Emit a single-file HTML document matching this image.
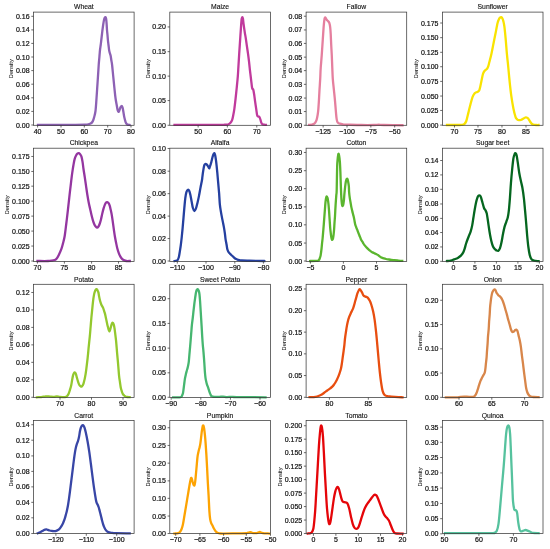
<!DOCTYPE html>
<html><head><meta charset="utf-8"><style>
html,body{margin:0;padding:0;background:#fff;}
body{width:550px;height:549px;overflow:hidden;}
svg{display:block;font-family:"Liberation Sans",sans-serif;}
svg{will-change:transform;}
text{stroke:#111;stroke-width:0.2px;}
</style></head><body>
<svg width="550" height="549" viewBox="0 0 550 549">
<rect width="550" height="549" fill="#fff"/>
<path d="M38.00,124.90 C43.33,124.88 62.17,124.85 70.00,124.80 C77.83,124.75 81.83,124.72 85.00,124.60 C88.17,124.48 88.00,124.32 89.00,124.10 C90.00,123.88 90.45,123.65 91.00,123.30 C91.55,122.95 91.92,122.55 92.30,122.00 C92.68,121.45 92.98,120.83 93.30,120.00 C93.62,119.17 93.83,118.50 94.20,117.00 C94.57,115.50 95.13,113.83 95.50,111.00 C95.87,108.17 96.12,103.83 96.40,100.00 C96.68,96.17 96.93,92.00 97.20,88.00 C97.47,84.00 97.75,79.83 98.00,76.00 C98.25,72.17 98.47,68.17 98.70,65.00 C98.93,61.83 99.18,59.50 99.40,57.00 C99.62,54.50 99.78,52.00 100.00,50.00 C100.22,48.00 100.48,46.67 100.70,45.00 C100.92,43.33 101.08,41.83 101.30,40.00 C101.52,38.17 101.78,35.83 102.00,34.00 C102.22,32.17 102.38,30.67 102.60,29.00 C102.82,27.33 103.07,25.50 103.30,24.00 C103.53,22.50 103.78,21.00 104.00,20.00 C104.22,19.00 104.39,18.47 104.60,18.00 C104.81,17.53 105.03,17.23 105.25,17.20 C105.47,17.17 105.73,17.33 105.90,17.80 C106.08,18.27 106.17,18.80 106.30,20.00 C106.43,21.20 106.58,23.33 106.70,25.00 C106.82,26.67 106.87,28.33 107.00,30.00 C107.13,31.67 107.35,33.33 107.50,35.00 C107.65,36.67 107.73,38.33 107.90,40.00 C108.07,41.67 108.30,43.33 108.50,45.00 C108.70,46.67 108.88,48.67 109.10,50.00 C109.32,51.33 109.55,52.08 109.80,53.00 C110.05,53.92 110.35,54.33 110.60,55.50 C110.85,56.67 111.05,58.42 111.30,60.00 C111.55,61.58 111.78,62.33 112.10,65.00 C112.42,67.67 112.82,72.17 113.20,76.00 C113.58,79.83 114.02,84.33 114.40,88.00 C114.78,91.67 115.12,95.17 115.50,98.00 C115.88,100.83 116.35,103.00 116.70,105.00 C117.05,107.00 117.32,108.87 117.60,110.00 C117.88,111.13 118.13,111.63 118.40,111.80 C118.67,111.97 118.90,111.63 119.20,111.00 C119.50,110.37 119.87,108.78 120.20,108.00 C120.53,107.22 120.90,106.60 121.20,106.30 C121.50,106.00 121.75,105.92 122.00,106.20 C122.25,106.48 122.45,106.95 122.70,108.00 C122.95,109.05 123.25,111.05 123.50,112.50 C123.75,113.95 123.95,115.45 124.20,116.70 C124.45,117.95 124.75,119.05 125.00,120.00 C125.25,120.95 125.45,121.77 125.70,122.40 C125.95,123.03 126.20,123.43 126.50,123.80 C126.80,124.17 127.00,124.42 127.50,124.60 C128.00,124.78 129.17,124.85 129.50,124.90" fill="none" stroke="#8d61b4" stroke-width="2.30" stroke-linejoin="round" stroke-linecap="square"/>
<rect x="33.50" y="12.10" width="100.60" height="113.20" fill="none" stroke="#3a3a3a" stroke-width="0.75"/>
<g stroke="#3a3a3a" stroke-width="0.75"><line x1="31.30" y1="125.00" x2="33.50" y2="125.00"/><line x1="31.30" y1="111.40" x2="33.50" y2="111.40"/><line x1="31.30" y1="97.80" x2="33.50" y2="97.80"/><line x1="31.30" y1="84.20" x2="33.50" y2="84.20"/><line x1="31.30" y1="70.60" x2="33.50" y2="70.60"/><line x1="31.30" y1="57.00" x2="33.50" y2="57.00"/><line x1="31.30" y1="43.40" x2="33.50" y2="43.40"/><line x1="31.30" y1="29.90" x2="33.50" y2="29.90"/><line x1="31.30" y1="16.30" x2="33.50" y2="16.30"/><line x1="37.60" y1="125.30" x2="37.60" y2="127.50"/><line x1="61.00" y1="125.30" x2="61.00" y2="127.50"/><line x1="84.30" y1="125.30" x2="84.30" y2="127.50"/><line x1="107.70" y1="125.30" x2="107.70" y2="127.50"/><line x1="131.00" y1="125.30" x2="131.00" y2="127.50"/></g>
<g font-size="7.00" fill="#111"><text x="29.60" y="127.50" text-anchor="end">0.00</text><text x="29.60" y="113.90" text-anchor="end">0.02</text><text x="29.60" y="100.30" text-anchor="end">0.04</text><text x="29.60" y="86.70" text-anchor="end">0.06</text><text x="29.60" y="73.10" text-anchor="end">0.08</text><text x="29.60" y="59.50" text-anchor="end">0.10</text><text x="29.60" y="45.90" text-anchor="end">0.12</text><text x="29.60" y="32.40" text-anchor="end">0.14</text><text x="29.60" y="18.80" text-anchor="end">0.16</text><text x="37.60" y="133.90" text-anchor="middle">40</text><text x="61.00" y="133.90" text-anchor="middle">50</text><text x="84.30" y="133.90" text-anchor="middle">60</text><text x="107.70" y="133.90" text-anchor="middle">70</text><text x="131.00" y="133.90" text-anchor="middle">80</text></g>
<text x="83.80" y="9.35" text-anchor="middle" font-size="6.80" fill="#111" style="stroke-width:0.12px">Wheat</text>
<text transform="translate(13.30,68.70) rotate(-90)" text-anchor="middle" font-size="5.70" fill="#222" style="stroke-width:0.05px">Density</text>
<path d="M174.50,124.85 C181.25,124.85 206.65,124.87 215.00,124.85 C223.35,124.83 222.43,124.81 224.60,124.75 C226.77,124.69 227.05,124.79 228.00,124.50 C228.95,124.21 229.62,123.73 230.30,123.00 C230.98,122.27 231.62,121.35 232.10,120.10 C232.58,118.85 232.82,117.42 233.20,115.50 C233.58,113.58 234.02,111.28 234.40,108.60 C234.78,105.92 235.12,102.83 235.50,99.40 C235.88,95.97 236.32,91.82 236.70,88.00 C237.08,84.18 237.52,80.00 237.80,76.50 C238.08,73.00 238.17,70.80 238.40,67.00 C238.63,63.20 238.88,58.65 239.20,53.70 C239.52,48.75 239.97,42.22 240.30,37.30 C240.63,32.38 240.97,27.32 241.20,24.20 C241.43,21.08 241.52,19.77 241.70,18.60 C241.88,17.43 242.10,17.22 242.30,17.20 C242.50,17.18 242.68,17.33 242.90,18.50 C243.12,19.67 243.30,21.97 243.60,24.20 C243.90,26.43 244.33,29.53 244.70,31.90 C245.07,34.27 245.43,36.03 245.80,38.40 C246.17,40.77 246.53,43.55 246.90,46.10 C247.27,48.65 247.65,51.15 248.00,53.70 C248.35,56.25 248.68,58.70 249.00,61.40 C249.32,64.10 249.55,66.83 249.90,69.90 C250.25,72.97 250.75,76.90 251.10,79.80 C251.45,82.70 251.75,85.75 252.00,87.30 C252.25,88.85 252.38,88.70 252.60,89.10 C252.82,89.50 253.03,88.77 253.30,89.70 C253.57,90.63 253.88,92.63 254.20,94.70 C254.52,96.77 254.85,99.62 255.20,102.10 C255.55,104.58 255.98,107.43 256.30,109.60 C256.62,111.77 256.83,113.97 257.10,115.10 C257.37,116.23 257.62,116.15 257.90,116.40 C258.18,116.65 258.55,116.50 258.80,116.60 C259.05,116.70 259.13,116.52 259.40,117.00 C259.67,117.48 260.08,118.57 260.40,119.50 C260.72,120.43 260.98,121.82 261.30,122.60 C261.62,123.38 261.83,123.85 262.30,124.20 C262.77,124.55 263.52,124.60 264.10,124.70 C264.68,124.80 265.52,124.78 265.80,124.80" fill="none" stroke="#c03a9c" stroke-width="2.30" stroke-linejoin="round" stroke-linecap="square"/>
<rect x="169.80" y="12.10" width="100.60" height="113.20" fill="none" stroke="#3a3a3a" stroke-width="0.75"/>
<g stroke="#3a3a3a" stroke-width="0.75"><line x1="167.60" y1="125.27" x2="169.80" y2="125.27"/><line x1="167.60" y1="100.57" x2="169.80" y2="100.57"/><line x1="167.60" y1="76.11" x2="169.80" y2="76.11"/><line x1="167.60" y1="51.66" x2="169.80" y2="51.66"/><line x1="167.60" y1="26.95" x2="169.80" y2="26.95"/><line x1="198.14" y1="125.30" x2="198.14" y2="127.50"/><line x1="227.34" y1="125.30" x2="227.34" y2="127.50"/><line x1="256.78" y1="125.30" x2="256.78" y2="127.50"/></g>
<g font-size="7.00" fill="#111"><text x="165.90" y="127.77" text-anchor="end">0.00</text><text x="165.90" y="103.07" text-anchor="end">0.05</text><text x="165.90" y="78.61" text-anchor="end">0.10</text><text x="165.90" y="54.16" text-anchor="end">0.15</text><text x="165.90" y="29.45" text-anchor="end">0.20</text><text x="198.14" y="133.90" text-anchor="middle">50</text><text x="227.34" y="133.90" text-anchor="middle">60</text><text x="256.78" y="133.90" text-anchor="middle">70</text></g>
<text x="220.10" y="9.35" text-anchor="middle" font-size="6.80" fill="#111" style="stroke-width:0.12px">Maize</text>
<text transform="translate(149.60,68.70) rotate(-90)" text-anchor="middle" font-size="5.70" fill="#222" style="stroke-width:0.05px">Density</text>
<path d="M309.20,124.85 C309.68,124.81 311.25,124.79 312.10,124.60 C312.95,124.41 313.67,124.20 314.30,123.70 C314.93,123.20 315.45,122.50 315.90,121.60 C316.35,120.70 316.63,119.95 317.00,118.30 C317.37,116.65 317.78,114.62 318.10,111.70 C318.42,108.78 318.67,104.43 318.90,100.80 C319.13,97.17 319.28,93.55 319.50,89.90 C319.72,86.25 320.00,82.55 320.20,78.90 C320.40,75.25 320.45,71.87 320.70,68.00 C320.95,64.13 321.35,60.48 321.70,55.70 C322.05,50.92 322.45,44.40 322.80,39.30 C323.15,34.20 323.50,28.58 323.80,25.10 C324.10,21.62 324.35,19.70 324.60,18.40 C324.85,17.10 325.07,17.27 325.30,17.30 C325.53,17.33 325.70,18.12 326.00,18.60 C326.30,19.08 326.73,19.75 327.10,20.20 C327.47,20.65 327.83,20.85 328.20,21.30 C328.57,21.75 328.97,21.90 329.30,22.90 C329.63,23.90 329.97,25.47 330.20,27.30 C330.43,29.13 330.53,30.98 330.70,33.90 C330.87,36.82 331.02,41.17 331.20,44.80 C331.38,48.43 331.62,51.83 331.80,55.70 C331.98,59.57 332.13,64.13 332.30,68.00 C332.47,71.87 332.53,75.25 332.80,78.90 C333.07,82.55 333.53,86.25 333.90,89.90 C334.27,93.55 334.67,97.17 335.00,100.80 C335.33,104.43 335.62,108.60 335.90,111.70 C336.18,114.80 336.38,117.58 336.70,119.40 C337.02,121.22 337.25,121.88 337.80,122.60 C338.35,123.32 339.18,123.42 340.00,123.70 C340.82,123.98 341.87,124.15 342.70,124.30 C343.53,124.45 344.12,124.53 345.00,124.60 C345.88,124.67 345.28,124.63 348.00,124.70 C350.72,124.77 357.04,124.97 361.34,125.02 C365.64,125.08 370.91,125.06 373.82,125.02 C376.73,124.98 377.15,124.77 378.81,124.77 C380.47,124.77 379.85,124.94 383.80,125.02 C387.75,125.11 399.40,125.23 402.52,125.27" fill="none" stroke="#e57f9e" stroke-width="2.30" stroke-linejoin="round" stroke-linecap="square"/>
<rect x="306.10" y="12.10" width="100.60" height="113.20" fill="none" stroke="#3a3a3a" stroke-width="0.75"/>
<g stroke="#3a3a3a" stroke-width="0.75"><line x1="303.90" y1="125.27" x2="306.10" y2="125.27"/><line x1="303.90" y1="111.55" x2="306.10" y2="111.55"/><line x1="303.90" y1="98.07" x2="306.10" y2="98.07"/><line x1="303.90" y1="84.35" x2="306.10" y2="84.35"/><line x1="303.90" y1="70.62" x2="306.10" y2="70.62"/><line x1="303.90" y1="57.15" x2="306.10" y2="57.15"/><line x1="303.90" y1="43.42" x2="306.10" y2="43.42"/><line x1="303.90" y1="29.95" x2="306.10" y2="29.95"/><line x1="303.90" y1="16.22" x2="306.10" y2="16.22"/><line x1="323.15" y1="125.30" x2="323.15" y2="127.50"/><line x1="347.00" y1="125.30" x2="347.00" y2="127.50"/><line x1="370.85" y1="125.30" x2="370.85" y2="127.50"/><line x1="394.70" y1="125.30" x2="394.70" y2="127.50"/></g>
<g font-size="7.00" fill="#111"><text x="302.20" y="127.77" text-anchor="end">0.00</text><text x="302.20" y="114.05" text-anchor="end">0.01</text><text x="302.20" y="100.57" text-anchor="end">0.02</text><text x="302.20" y="86.85" text-anchor="end">0.03</text><text x="302.20" y="73.12" text-anchor="end">0.04</text><text x="302.20" y="59.65" text-anchor="end">0.05</text><text x="302.20" y="45.92" text-anchor="end">0.06</text><text x="302.20" y="32.45" text-anchor="end">0.07</text><text x="302.20" y="18.72" text-anchor="end">0.08</text><text x="323.15" y="133.90" text-anchor="middle">−125</text><text x="347.00" y="133.90" text-anchor="middle">−100</text><text x="370.85" y="133.90" text-anchor="middle">−75</text><text x="394.70" y="133.90" text-anchor="middle">−50</text></g>
<text x="356.40" y="9.35" text-anchor="middle" font-size="6.80" fill="#111" style="stroke-width:0.12px">Fallow</text>
<text transform="translate(285.90,68.70) rotate(-90)" text-anchor="middle" font-size="5.70" fill="#222" style="stroke-width:0.05px">Density</text>
<path d="M447.00,125.00 C448.83,125.00 455.58,125.02 458.00,125.00 C460.42,124.98 460.47,125.03 461.50,124.90 C462.53,124.77 463.40,124.85 464.20,124.20 C465.00,123.55 465.60,122.93 466.30,121.00 C467.00,119.07 467.70,115.40 468.40,112.60 C469.10,109.80 469.80,106.82 470.50,104.20 C471.20,101.58 471.90,98.72 472.60,96.90 C473.30,95.08 474.08,94.07 474.70,93.30 C475.32,92.53 475.78,92.57 476.30,92.30 C476.82,92.03 477.30,92.05 477.80,91.70 C478.30,91.35 478.88,91.08 479.30,90.20 C479.72,89.32 479.95,87.90 480.30,86.40 C480.65,84.90 480.95,83.30 481.40,81.20 C481.85,79.10 482.45,75.55 483.00,73.80 C483.55,72.05 484.20,71.38 484.70,70.70 C485.20,70.02 485.58,70.05 486.00,69.70 C486.42,69.35 486.82,69.20 487.20,68.60 C487.58,68.00 487.95,67.15 488.30,66.10 C488.65,65.05 488.78,64.33 489.30,62.30 C489.82,60.27 490.70,57.05 491.40,53.90 C492.10,50.75 492.80,46.88 493.50,43.40 C494.20,39.92 495.08,35.62 495.60,33.00 C496.12,30.38 496.25,29.45 496.60,27.70 C496.95,25.95 497.35,23.82 497.70,22.50 C498.05,21.18 498.35,20.57 498.70,19.80 C499.05,19.03 499.37,18.33 499.80,17.90 C500.23,17.47 500.88,17.13 501.30,17.20 C501.72,17.27 501.95,17.60 502.30,18.30 C502.65,19.00 503.05,20.00 503.40,21.40 C503.75,22.80 504.02,23.72 504.40,26.70 C504.78,29.68 505.28,34.77 505.70,39.30 C506.12,43.83 506.48,49.37 506.90,53.90 C507.32,58.43 507.75,61.95 508.20,66.50 C508.65,71.05 509.08,76.30 509.60,81.20 C510.12,86.10 510.67,91.37 511.30,95.90 C511.93,100.43 512.70,104.92 513.40,108.40 C514.10,111.88 514.93,115.05 515.50,116.80 C516.07,118.55 516.35,118.37 516.80,118.90 C517.25,119.43 517.55,119.82 518.20,120.00 C518.85,120.18 519.75,120.28 520.70,120.00 C521.65,119.72 523.13,118.72 523.90,118.30 C524.67,117.88 524.85,117.63 525.30,117.50 C525.75,117.37 526.22,117.40 526.60,117.50 C526.98,117.60 527.25,117.80 527.60,118.10 C527.95,118.40 528.17,118.53 528.70,119.30 C529.23,120.07 530.25,121.92 530.80,122.70 C531.35,123.48 531.58,123.68 532.00,124.00 C532.42,124.32 532.57,124.43 533.30,124.60 C534.03,124.77 535.53,124.93 536.40,125.00 C537.27,125.07 538.15,125.00 538.50,125.00" fill="none" stroke="#f9e300" stroke-width="2.30" stroke-linejoin="round" stroke-linecap="square"/>
<rect x="442.40" y="12.10" width="100.60" height="113.20" fill="none" stroke="#3a3a3a" stroke-width="0.75"/>
<g stroke="#3a3a3a" stroke-width="0.75"><line x1="440.20" y1="125.10" x2="442.40" y2="125.10"/><line x1="440.20" y1="110.44" x2="442.40" y2="110.44"/><line x1="440.20" y1="96.04" x2="442.40" y2="96.04"/><line x1="440.20" y1="81.38" x2="442.40" y2="81.38"/><line x1="440.20" y1="66.72" x2="442.40" y2="66.72"/><line x1="440.20" y1="52.31" x2="442.40" y2="52.31"/><line x1="440.20" y1="37.66" x2="442.40" y2="37.66"/><line x1="440.20" y1="23.00" x2="442.40" y2="23.00"/><line x1="454.47" y1="125.30" x2="454.47" y2="127.50"/><line x1="477.97" y1="125.30" x2="477.97" y2="127.50"/><line x1="501.98" y1="125.30" x2="501.98" y2="127.50"/><line x1="525.99" y1="125.30" x2="525.99" y2="127.50"/></g>
<g font-size="7.00" fill="#111"><text x="438.50" y="127.60" text-anchor="end">0.000</text><text x="438.50" y="112.94" text-anchor="end">0.025</text><text x="438.50" y="98.54" text-anchor="end">0.050</text><text x="438.50" y="83.88" text-anchor="end">0.075</text><text x="438.50" y="69.22" text-anchor="end">0.100</text><text x="438.50" y="54.81" text-anchor="end">0.125</text><text x="438.50" y="40.16" text-anchor="end">0.150</text><text x="438.50" y="25.50" text-anchor="end">0.175</text><text x="454.47" y="133.90" text-anchor="middle">70</text><text x="477.97" y="133.90" text-anchor="middle">75</text><text x="501.98" y="133.90" text-anchor="middle">80</text><text x="525.99" y="133.90" text-anchor="middle">85</text></g>
<text x="492.70" y="9.35" text-anchor="middle" font-size="6.80" fill="#111" style="stroke-width:0.12px">Sunflower</text>
<text transform="translate(418.20,68.70) rotate(-90)" text-anchor="middle" font-size="5.70" fill="#222" style="stroke-width:0.05px">Density</text>
<path d="M37.50,261.00 C39.25,261.00 45.58,261.07 48.00,261.00 C50.42,260.93 50.92,260.77 52.00,260.60 C53.08,260.43 53.78,260.25 54.50,260.00 C55.22,259.75 55.58,259.95 56.30,259.10 C57.02,258.25 57.93,256.65 58.80,254.90 C59.67,253.15 60.80,250.52 61.50,248.60 C62.20,246.68 62.47,245.50 63.00,243.40 C63.53,241.30 64.15,239.32 64.70,236.00 C65.25,232.68 65.78,227.68 66.30,223.50 C66.82,219.32 67.30,215.27 67.80,210.90 C68.30,206.53 68.78,201.85 69.30,197.30 C69.82,192.75 70.42,187.62 70.90,183.60 C71.38,179.58 71.77,176.33 72.20,173.20 C72.63,170.07 73.08,167.18 73.50,164.80 C73.92,162.42 74.25,160.48 74.70,158.90 C75.15,157.32 75.75,156.17 76.20,155.30 C76.65,154.43 76.98,154.05 77.40,153.70 C77.82,153.35 78.28,153.17 78.70,153.20 C79.12,153.23 79.45,153.37 79.90,153.90 C80.35,154.43 80.97,155.12 81.40,156.40 C81.83,157.68 82.15,159.50 82.50,161.60 C82.85,163.70 83.12,166.37 83.50,169.00 C83.88,171.63 84.38,174.62 84.80,177.40 C85.22,180.18 85.58,182.85 86.00,185.70 C86.42,188.55 86.85,191.70 87.30,194.50 C87.75,197.30 88.22,200.05 88.70,202.50 C89.18,204.95 89.73,207.10 90.20,209.20 C90.67,211.30 91.05,213.25 91.50,215.10 C91.95,216.95 92.42,218.73 92.90,220.30 C93.38,221.87 93.93,223.45 94.40,224.50 C94.87,225.55 95.25,226.07 95.70,226.60 C96.15,227.13 96.65,227.70 97.10,227.70 C97.55,227.70 97.95,227.30 98.40,226.60 C98.85,225.90 99.35,224.78 99.80,223.50 C100.25,222.22 100.67,220.65 101.10,218.90 C101.53,217.15 101.98,214.75 102.40,213.00 C102.82,211.25 103.18,209.80 103.60,208.40 C104.02,207.00 104.48,205.58 104.90,204.60 C105.32,203.62 105.72,202.92 106.10,202.50 C106.48,202.08 106.82,202.03 107.20,202.10 C107.58,202.17 107.98,202.30 108.40,202.90 C108.82,203.50 109.32,204.55 109.70,205.70 C110.08,206.85 110.35,208.23 110.70,209.80 C111.05,211.37 111.45,213.10 111.80,215.10 C112.15,217.10 112.45,219.35 112.80,221.80 C113.15,224.25 113.55,227.35 113.90,229.80 C114.25,232.25 114.55,234.42 114.90,236.50 C115.25,238.58 115.62,240.38 116.00,242.30 C116.38,244.22 116.75,246.25 117.20,248.00 C117.65,249.75 118.17,251.37 118.70,252.80 C119.23,254.23 119.80,255.55 120.40,256.60 C121.00,257.65 121.65,258.47 122.30,259.10 C122.95,259.73 123.62,260.08 124.30,260.40 C124.98,260.72 125.48,260.90 126.40,261.00 C127.32,261.10 129.23,261.00 129.80,261.00" fill="none" stroke="#9436a0" stroke-width="2.30" stroke-linejoin="round" stroke-linecap="square"/>
<rect x="33.50" y="148.20" width="100.60" height="113.20" fill="none" stroke="#3a3a3a" stroke-width="0.75"/>
<g stroke="#3a3a3a" stroke-width="0.75"><line x1="31.30" y1="261.02" x2="33.50" y2="261.02"/><line x1="31.30" y1="246.05" x2="33.50" y2="246.05"/><line x1="31.30" y1="231.08" x2="33.50" y2="231.08"/><line x1="31.30" y1="216.11" x2="33.50" y2="216.11"/><line x1="31.30" y1="201.13" x2="33.50" y2="201.13"/><line x1="31.30" y1="186.16" x2="33.50" y2="186.16"/><line x1="31.30" y1="171.44" x2="33.50" y2="171.44"/><line x1="31.30" y1="156.46" x2="33.50" y2="156.46"/><line x1="37.43" y1="261.40" x2="37.43" y2="263.60"/><line x1="64.38" y1="261.40" x2="64.38" y2="263.60"/><line x1="91.58" y1="261.40" x2="91.58" y2="263.60"/><line x1="118.53" y1="261.40" x2="118.53" y2="263.60"/></g>
<g font-size="7.00" fill="#111"><text x="29.60" y="263.52" text-anchor="end">0.000</text><text x="29.60" y="248.55" text-anchor="end">0.025</text><text x="29.60" y="233.58" text-anchor="end">0.050</text><text x="29.60" y="218.61" text-anchor="end">0.075</text><text x="29.60" y="203.63" text-anchor="end">0.100</text><text x="29.60" y="188.66" text-anchor="end">0.125</text><text x="29.60" y="173.94" text-anchor="end">0.150</text><text x="29.60" y="158.96" text-anchor="end">0.175</text><text x="37.43" y="270.00" text-anchor="middle">70</text><text x="64.38" y="270.00" text-anchor="middle">75</text><text x="91.58" y="270.00" text-anchor="middle">80</text><text x="118.53" y="270.00" text-anchor="middle">85</text></g>
<text x="83.80" y="145.45" text-anchor="middle" font-size="6.80" fill="#111" style="stroke-width:0.12px">Chickpea</text>
<text transform="translate(9.30,204.80) rotate(-90)" text-anchor="middle" font-size="5.70" fill="#222" style="stroke-width:0.05px">Density</text>
<path d="M174.60,261.00 C175.05,260.88 176.60,260.93 177.30,260.30 C178.00,259.67 178.37,258.73 178.80,257.20 C179.23,255.67 179.57,253.12 179.90,251.10 C180.23,249.08 180.50,247.37 180.80,245.10 C181.10,242.83 181.40,240.28 181.70,237.50 C182.00,234.72 182.30,231.68 182.60,228.40 C182.90,225.12 183.20,221.33 183.50,217.80 C183.80,214.27 184.10,210.47 184.40,207.20 C184.70,203.93 184.97,200.72 185.30,198.20 C185.63,195.68 185.97,193.50 186.40,192.10 C186.83,190.70 187.40,189.93 187.90,189.80 C188.40,189.67 188.95,190.28 189.40,191.30 C189.85,192.32 190.22,194.13 190.60,195.90 C190.98,197.67 191.32,199.88 191.70,201.90 C192.08,203.92 192.45,206.48 192.90,208.00 C193.35,209.52 193.90,210.88 194.40,211.00 C194.90,211.12 195.38,210.08 195.90,208.70 C196.42,207.32 196.98,204.83 197.50,202.70 C198.02,200.57 198.50,198.42 199.00,195.90 C199.50,193.38 200.00,190.25 200.50,187.60 C201.00,184.95 201.69,181.78 202.00,180.00 C202.31,178.22 202.19,178.35 202.38,176.93 C202.57,175.50 202.88,173.10 203.13,171.44 C203.38,169.77 203.63,168.07 203.88,166.95 C204.13,165.82 204.34,165.20 204.63,164.70 C204.92,164.20 205.29,163.99 205.62,163.95 C205.96,163.91 206.29,164.16 206.62,164.45 C206.96,164.74 207.29,165.20 207.62,165.70 C207.95,166.20 208.33,167.03 208.62,167.44 C208.91,167.86 209.08,168.57 209.37,168.19 C209.66,167.82 210.03,166.24 210.37,165.20 C210.70,164.16 211.03,163.20 211.36,161.95 C211.70,160.71 212.03,158.96 212.36,157.71 C212.70,156.46 213.03,155.22 213.36,154.47 C213.69,153.72 214.07,153.14 214.36,153.22 C214.65,153.30 214.86,153.93 215.11,154.97 C215.36,156.01 215.61,157.67 215.86,159.46 C216.11,161.25 216.36,163.41 216.60,165.70 C216.85,167.99 217.10,170.48 217.35,173.18 C217.60,175.89 217.81,178.59 218.10,181.92 C218.39,185.25 218.81,189.40 219.10,193.15 C219.39,196.89 219.56,201.34 219.85,204.38 C220.14,207.41 220.51,209.28 220.85,211.36 C221.18,213.44 221.51,215.11 221.85,216.85 C222.18,218.60 222.51,220.18 222.84,221.85 C223.18,223.51 223.51,224.96 223.84,226.84 C224.17,228.71 224.55,231.00 224.84,233.07 C225.13,235.15 225.30,237.36 225.59,239.31 C225.88,241.27 226.30,243.14 226.59,244.80 C226.88,246.47 227.04,248.13 227.34,249.30 C227.63,250.46 228.00,251.17 228.33,251.79 C228.67,252.41 228.96,252.62 229.33,253.04 C229.71,253.45 230.16,253.87 230.58,254.29 C231.00,254.70 231.29,255.03 231.83,255.53 C232.37,256.03 233.20,256.74 233.82,257.28 C234.45,257.82 234.86,258.36 235.57,258.78 C236.28,259.19 237.03,259.48 238.07,259.78 C239.11,260.07 239.94,260.36 241.81,260.52 C243.68,260.69 245.55,260.69 249.30,260.77 C253.04,260.86 261.77,260.98 264.27,261.02" fill="none" stroke="#2540a0" stroke-width="2.30" stroke-linejoin="round" stroke-linecap="square"/>
<rect x="169.80" y="148.20" width="100.60" height="113.20" fill="none" stroke="#3a3a3a" stroke-width="0.75"/>
<g stroke="#3a3a3a" stroke-width="0.75"><line x1="167.60" y1="261.02" x2="169.80" y2="261.02"/><line x1="167.60" y1="238.56" x2="169.80" y2="238.56"/><line x1="167.60" y1="216.11" x2="169.80" y2="216.11"/><line x1="167.60" y1="193.65" x2="169.80" y2="193.65"/><line x1="167.60" y1="171.19" x2="169.80" y2="171.19"/><line x1="167.60" y1="148.48" x2="169.80" y2="148.48"/><line x1="177.30" y1="261.40" x2="177.30" y2="263.60"/><line x1="206.00" y1="261.40" x2="206.00" y2="263.60"/><line x1="234.80" y1="261.40" x2="234.80" y2="263.60"/><line x1="263.40" y1="261.40" x2="263.40" y2="263.60"/></g>
<g font-size="7.00" fill="#111"><text x="165.90" y="263.52" text-anchor="end">0.00</text><text x="165.90" y="241.06" text-anchor="end">0.02</text><text x="165.90" y="218.61" text-anchor="end">0.04</text><text x="165.90" y="196.15" text-anchor="end">0.06</text><text x="165.90" y="173.69" text-anchor="end">0.08</text><text x="165.90" y="150.98" text-anchor="end">0.10</text><text x="177.30" y="270.00" text-anchor="middle">−110</text><text x="206.00" y="270.00" text-anchor="middle">−100</text><text x="234.80" y="270.00" text-anchor="middle">−90</text><text x="263.40" y="270.00" text-anchor="middle">−80</text></g>
<text x="220.10" y="145.45" text-anchor="middle" font-size="6.80" fill="#111" style="stroke-width:0.12px">Alfalfa</text>
<text transform="translate(149.60,204.80) rotate(-90)" text-anchor="middle" font-size="5.70" fill="#222" style="stroke-width:0.05px">Density</text>
<path d="M310.18,261.02 C311.15,261.00 314.70,260.95 316.00,260.90 C317.30,260.85 317.45,260.93 318.00,260.70 C318.55,260.47 318.98,259.97 319.30,259.50 C319.62,259.03 319.68,258.55 319.90,257.90 C320.12,257.25 320.33,257.08 320.60,255.60 C320.87,254.12 321.27,250.97 321.50,249.00 C321.73,247.03 321.82,245.55 322.00,243.80 C322.18,242.05 322.42,240.37 322.60,238.50 C322.78,236.63 322.93,234.57 323.10,232.60 C323.27,230.63 323.43,228.77 323.60,226.70 C323.77,224.63 323.95,222.17 324.10,220.20 C324.25,218.23 324.37,216.65 324.50,214.90 C324.63,213.15 324.75,211.67 324.90,209.70 C325.05,207.73 325.22,204.97 325.40,203.10 C325.58,201.23 325.82,199.58 326.00,198.50 C326.18,197.42 326.33,196.88 326.50,196.60 C326.67,196.32 326.83,196.58 327.00,196.80 C327.17,197.02 327.32,197.18 327.50,197.90 C327.68,198.62 327.93,200.02 328.10,201.10 C328.27,202.18 328.35,202.87 328.50,204.40 C328.65,205.93 328.85,208.33 329.00,210.30 C329.15,212.27 329.27,214.23 329.40,216.20 C329.53,218.17 329.67,220.13 329.80,222.10 C329.93,224.07 330.05,226.25 330.20,228.00 C330.35,229.75 330.55,231.28 330.70,232.60 C330.85,233.92 330.97,234.95 331.10,235.90 C331.23,236.85 331.35,237.65 331.50,238.30 C331.65,238.95 331.83,239.58 332.00,239.80 C332.17,240.02 332.33,239.82 332.50,239.60 C332.67,239.38 332.82,239.33 333.00,238.50 C333.18,237.67 333.42,236.13 333.60,234.60 C333.78,233.07 333.95,231.27 334.10,229.30 C334.25,227.33 334.35,224.98 334.50,222.80 C334.65,220.62 334.85,218.60 335.00,216.20 C335.15,213.80 335.25,211.02 335.40,208.40 C335.55,205.78 335.75,202.70 335.90,200.50 C336.05,198.30 336.17,196.95 336.30,195.20 C336.43,193.45 336.56,194.71 336.70,190.00 C336.84,185.29 336.98,172.04 337.13,166.95 C337.29,161.86 337.43,161.62 337.63,159.46 C337.84,157.30 338.13,154.59 338.38,153.97 C338.63,153.35 338.88,154.38 339.13,155.72 C339.38,157.05 339.67,159.25 339.88,161.95 C340.09,164.66 340.21,167.78 340.38,171.94 C340.55,176.10 340.71,182.54 340.88,186.91 C341.04,191.28 341.21,195.31 341.38,198.14 C341.54,200.97 341.71,202.59 341.88,203.88 C342.04,205.17 342.17,205.67 342.38,205.87 C342.58,206.08 342.87,206.00 343.12,205.13 C343.37,204.25 343.66,202.42 343.87,200.63 C344.08,198.85 344.16,196.68 344.37,194.40 C344.58,192.11 344.87,189.07 345.12,186.91 C345.37,184.75 345.62,182.71 345.87,181.42 C346.12,180.13 346.37,179.59 346.62,179.17 C346.87,178.76 347.12,178.55 347.37,178.92 C347.62,179.30 347.87,180.17 348.11,181.42 C348.36,182.67 348.70,184.63 348.86,186.41 C349.03,188.19 348.94,190.13 349.10,192.10 C349.26,194.07 349.55,196.43 349.80,198.20 C350.05,199.97 350.35,201.25 350.60,202.70 C350.85,204.15 351.05,205.63 351.30,206.90 C351.55,208.17 351.85,209.23 352.10,210.30 C352.35,211.37 352.55,212.30 352.80,213.30 C353.05,214.30 353.33,215.17 353.60,216.30 C353.87,217.43 354.15,218.83 354.40,220.10 C354.65,221.37 354.85,222.85 355.10,223.90 C355.35,224.95 355.65,225.65 355.90,226.40 C356.15,227.15 356.35,227.77 356.60,228.40 C356.85,229.03 357.15,229.57 357.40,230.20 C357.65,230.83 357.85,231.53 358.10,232.20 C358.35,232.87 358.65,233.57 358.90,234.20 C359.15,234.83 359.35,235.38 359.60,236.00 C359.85,236.62 360.15,237.27 360.40,237.90 C360.65,238.53 360.77,239.17 361.10,239.80 C361.43,240.43 362.02,241.08 362.40,241.70 C362.78,242.32 363.05,242.93 363.40,243.50 C363.75,244.07 364.12,244.58 364.50,245.10 C364.88,245.62 365.25,246.10 365.70,246.60 C366.15,247.10 366.70,247.60 367.20,248.10 C367.70,248.60 368.20,249.15 368.70,249.60 C369.20,250.05 369.70,250.42 370.20,250.80 C370.70,251.18 371.20,251.60 371.70,251.90 C372.20,252.20 372.70,252.35 373.20,252.60 C373.70,252.85 374.18,253.15 374.70,253.40 C375.22,253.65 375.78,253.85 376.30,254.10 C376.82,254.35 377.30,254.57 377.80,254.90 C378.30,255.23 378.80,255.72 379.30,256.10 C379.80,256.48 380.30,256.90 380.80,257.20 C381.30,257.50 381.80,257.70 382.30,257.90 C382.80,258.10 383.17,258.22 383.80,258.40 C384.43,258.58 385.35,258.83 386.10,259.00 C386.85,259.17 387.42,259.25 388.30,259.40 C389.18,259.55 390.38,259.77 391.40,259.90 C392.42,260.03 393.40,260.10 394.40,260.20 C395.40,260.30 396.40,260.40 397.40,260.50 C398.40,260.60 399.60,260.73 400.40,260.80 C401.20,260.87 401.90,260.88 402.20,260.90" fill="none" stroke="#5ab52e" stroke-width="2.30" stroke-linejoin="round" stroke-linecap="square"/>
<rect x="306.10" y="148.20" width="100.60" height="113.20" fill="none" stroke="#3a3a3a" stroke-width="0.75"/>
<g stroke="#3a3a3a" stroke-width="0.75"><line x1="303.90" y1="261.02" x2="306.10" y2="261.02"/><line x1="303.90" y1="243.06" x2="306.10" y2="243.06"/><line x1="303.90" y1="224.84" x2="306.10" y2="224.84"/><line x1="303.90" y1="206.87" x2="306.10" y2="206.87"/><line x1="303.90" y1="188.66" x2="306.10" y2="188.66"/><line x1="303.90" y1="170.69" x2="306.10" y2="170.69"/><line x1="303.90" y1="152.47" x2="306.10" y2="152.47"/><line x1="310.40" y1="261.40" x2="310.40" y2="263.60"/><line x1="343.40" y1="261.40" x2="343.40" y2="263.60"/><line x1="376.50" y1="261.40" x2="376.50" y2="263.60"/></g>
<g font-size="7.00" fill="#111"><text x="302.20" y="263.52" text-anchor="end">0.00</text><text x="302.20" y="245.56" text-anchor="end">0.05</text><text x="302.20" y="227.34" text-anchor="end">0.10</text><text x="302.20" y="209.37" text-anchor="end">0.15</text><text x="302.20" y="191.16" text-anchor="end">0.20</text><text x="302.20" y="173.19" text-anchor="end">0.25</text><text x="302.20" y="154.97" text-anchor="end">0.30</text><text x="310.40" y="270.00" text-anchor="middle">−5</text><text x="343.40" y="270.00" text-anchor="middle">0</text><text x="376.50" y="270.00" text-anchor="middle">5</text></g>
<text x="356.40" y="145.45" text-anchor="middle" font-size="6.80" fill="#111" style="stroke-width:0.12px">Cotton</text>
<text transform="translate(285.90,204.80) rotate(-90)" text-anchor="middle" font-size="5.70" fill="#222" style="stroke-width:0.05px">Density</text>
<path d="M447.00,261.00 C447.42,260.98 448.67,261.02 449.50,260.90 C450.33,260.78 451.23,260.55 452.00,260.30 C452.77,260.05 453.13,259.80 454.10,259.40 C455.07,259.00 456.67,258.53 457.80,257.90 C458.93,257.27 460.02,256.48 460.90,255.60 C461.78,254.72 462.48,253.73 463.10,252.60 C463.72,251.47 464.10,250.32 464.60,248.80 C465.10,247.28 465.58,245.13 466.10,243.50 C466.62,241.87 467.18,240.38 467.70,239.00 C468.22,237.62 468.70,236.47 469.20,235.20 C469.70,233.93 470.20,233.03 470.70,231.40 C471.20,229.77 471.75,227.67 472.20,225.40 C472.65,223.13 473.00,220.32 473.40,217.80 C473.80,215.28 474.17,212.82 474.60,210.30 C475.03,207.78 475.52,204.85 476.00,202.70 C476.48,200.55 477.10,198.55 477.50,197.40 C477.90,196.25 478.10,196.15 478.40,195.80 C478.70,195.45 479.00,195.30 479.30,195.30 C479.60,195.30 479.92,195.45 480.20,195.80 C480.48,196.15 480.62,196.25 481.00,197.40 C481.38,198.55 482.00,200.93 482.50,202.70 C483.00,204.47 483.50,206.73 484.00,208.00 C484.50,209.27 485.05,209.42 485.50,210.30 C485.95,211.18 486.33,211.80 486.70,213.30 C487.07,214.80 487.35,217.03 487.70,219.30 C488.05,221.57 488.42,224.37 488.80,226.90 C489.18,229.43 489.60,232.23 490.00,234.50 C490.40,236.77 490.75,238.62 491.20,240.50 C491.65,242.38 492.15,244.42 492.70,245.80 C493.25,247.18 493.88,248.05 494.50,248.80 C495.12,249.55 496.10,250.05 496.40,250.30 C496.70,250.55 495.97,250.23 496.30,250.30 C496.63,250.37 497.78,251.05 498.40,250.70 C499.02,250.35 499.48,249.60 500.00,248.20 C500.52,246.80 501.00,244.67 501.50,242.30 C502.00,239.93 502.48,236.62 503.00,234.00 C503.52,231.38 504.05,228.63 504.60,226.60 C505.15,224.57 505.77,223.37 506.30,221.80 C506.83,220.23 507.38,219.02 507.80,217.20 C508.22,215.38 508.45,214.05 508.80,210.90 C509.15,207.75 509.55,202.85 509.90,198.30 C510.25,193.75 510.52,188.48 510.90,183.60 C511.28,178.72 511.78,173.18 512.20,169.00 C512.62,164.82 512.98,161.02 513.40,158.50 C513.82,155.98 514.35,154.78 514.70,153.90 C515.05,153.02 515.18,152.97 515.50,153.20 C515.82,153.43 516.22,153.72 516.60,155.30 C516.98,156.88 517.35,159.72 517.80,162.70 C518.25,165.68 518.77,170.07 519.30,173.20 C519.83,176.33 520.48,179.07 521.00,181.50 C521.52,183.93 521.92,185.00 522.40,187.80 C522.88,190.60 523.45,194.45 523.90,198.30 C524.35,202.15 524.72,206.70 525.10,210.90 C525.48,215.10 525.85,219.32 526.20,223.50 C526.55,227.68 526.85,232.17 527.20,236.00 C527.55,239.83 527.88,243.35 528.30,246.50 C528.72,249.65 529.18,252.80 529.70,254.90 C530.22,257.00 530.70,258.15 531.40,259.10 C532.10,260.05 532.72,260.27 533.90,260.60 C535.08,260.93 537.73,261.02 538.50,261.10" fill="none" stroke="#05661f" stroke-width="2.30" stroke-linejoin="round" stroke-linecap="square"/>
<rect x="442.40" y="148.20" width="100.60" height="113.20" fill="none" stroke="#3a3a3a" stroke-width="0.75"/>
<g stroke="#3a3a3a" stroke-width="0.75"><line x1="440.20" y1="261.34" x2="442.40" y2="261.34"/><line x1="440.20" y1="246.94" x2="442.40" y2="246.94"/><line x1="440.20" y1="232.53" x2="442.40" y2="232.53"/><line x1="440.20" y1="218.38" x2="442.40" y2="218.38"/><line x1="440.20" y1="203.97" x2="442.40" y2="203.97"/><line x1="440.20" y1="189.31" x2="442.40" y2="189.31"/><line x1="440.20" y1="174.91" x2="442.40" y2="174.91"/><line x1="440.20" y1="160.50" x2="442.40" y2="160.50"/><line x1="453.40" y1="261.40" x2="453.40" y2="263.60"/><line x1="474.90" y1="261.40" x2="474.90" y2="263.60"/><line x1="496.40" y1="261.40" x2="496.40" y2="263.60"/><line x1="517.90" y1="261.40" x2="517.90" y2="263.60"/><line x1="539.40" y1="261.40" x2="539.40" y2="263.60"/></g>
<g font-size="7.00" fill="#111"><text x="438.50" y="263.84" text-anchor="end">0.00</text><text x="438.50" y="249.44" text-anchor="end">0.02</text><text x="438.50" y="235.03" text-anchor="end">0.04</text><text x="438.50" y="220.88" text-anchor="end">0.06</text><text x="438.50" y="206.47" text-anchor="end">0.08</text><text x="438.50" y="191.81" text-anchor="end">0.10</text><text x="438.50" y="177.41" text-anchor="end">0.12</text><text x="438.50" y="163.00" text-anchor="end">0.14</text><text x="453.40" y="270.00" text-anchor="middle">0</text><text x="474.90" y="270.00" text-anchor="middle">5</text><text x="496.40" y="270.00" text-anchor="middle">10</text><text x="517.90" y="270.00" text-anchor="middle">15</text><text x="539.40" y="270.00" text-anchor="middle">20</text></g>
<text x="492.70" y="145.45" text-anchor="middle" font-size="6.80" fill="#111" style="stroke-width:0.12px">Sugar beet</text>
<text transform="translate(422.20,204.80) rotate(-90)" text-anchor="middle" font-size="5.70" fill="#222" style="stroke-width:0.05px">Density</text>
<path d="M36.93,397.28 C37.64,397.23 39.84,397.15 41.17,397.03 C42.51,396.90 43.88,396.65 44.92,396.53 C45.96,396.40 46.58,396.28 47.41,396.28 C48.25,396.28 48.87,396.44 49.91,396.53 C50.95,396.61 52.49,396.82 53.65,396.78 C54.82,396.73 55.86,396.28 56.90,396.28 C57.94,396.28 58.56,396.65 59.89,396.78 C61.22,396.90 63.72,397.11 64.88,397.03 C66.05,396.94 66.25,396.82 66.88,396.28 C67.50,395.74 68.13,394.82 68.62,393.78 C69.12,392.74 69.46,391.37 69.87,390.04 C70.29,388.71 70.75,387.46 71.12,385.80 C71.49,384.13 71.79,381.84 72.12,380.06 C72.45,378.27 72.78,376.27 73.12,375.07 C73.45,373.86 73.82,373.24 74.11,372.82 C74.41,372.40 74.57,372.40 74.86,372.57 C75.15,372.74 75.53,372.99 75.86,373.82 C76.19,374.65 76.49,376.23 76.86,377.56 C77.23,378.89 77.69,380.56 78.11,381.80 C78.52,383.05 78.94,384.30 79.36,385.05 C79.77,385.80 80.19,386.09 80.60,386.30 C81.02,386.50 81.37,386.74 81.85,386.30 C82.33,385.85 82.88,385.63 83.50,383.60 C84.12,381.57 84.90,378.47 85.60,374.10 C86.30,369.73 87.18,361.93 87.70,357.40 C88.22,352.87 88.35,350.40 88.70,346.90 C89.05,343.40 89.48,339.72 89.80,336.40 C90.12,333.08 90.33,330.15 90.60,327.00 C90.87,323.85 91.12,320.55 91.40,317.50 C91.68,314.45 92.02,311.48 92.30,308.70 C92.58,305.92 92.82,303.10 93.10,300.80 C93.38,298.50 93.75,296.30 94.00,294.90 C94.25,293.50 94.33,293.23 94.60,292.40 C94.87,291.57 95.25,290.43 95.60,289.90 C95.95,289.37 96.38,289.13 96.70,289.20 C97.02,289.27 97.22,289.77 97.50,290.30 C97.78,290.83 98.15,291.47 98.40,292.40 C98.65,293.33 98.77,294.68 99.00,295.90 C99.23,297.12 99.52,298.53 99.80,299.70 C100.08,300.87 100.42,302.02 100.70,302.90 C100.98,303.78 101.23,304.42 101.50,305.00 C101.77,305.58 102.02,305.88 102.30,306.40 C102.58,306.92 102.92,307.40 103.20,308.10 C103.48,308.80 103.72,309.72 104.00,310.60 C104.28,311.48 104.62,312.35 104.90,313.40 C105.18,314.45 105.43,315.68 105.70,316.90 C105.97,318.12 106.22,319.37 106.50,320.70 C106.78,322.03 107.12,323.68 107.40,324.90 C107.68,326.12 107.97,327.13 108.20,328.00 C108.43,328.87 108.58,329.57 108.80,330.10 C109.02,330.63 109.25,331.37 109.50,331.20 C109.75,331.03 110.07,329.80 110.30,329.10 C110.53,328.40 110.68,327.80 110.90,327.00 C111.12,326.20 111.35,325.00 111.60,324.30 C111.85,323.60 112.13,322.95 112.40,322.80 C112.67,322.65 112.92,322.88 113.20,323.40 C113.48,323.92 113.85,324.85 114.10,325.90 C114.35,326.95 114.50,328.30 114.70,329.70 C114.90,331.10 115.08,332.55 115.30,334.30 C115.52,336.05 115.78,338.10 116.00,340.20 C116.22,342.30 116.40,344.57 116.60,346.90 C116.80,349.23 116.98,351.75 117.20,354.20 C117.42,356.65 117.68,359.15 117.90,361.60 C118.12,364.05 118.30,366.47 118.50,368.90 C118.70,371.33 118.85,373.93 119.10,376.20 C119.35,378.47 119.72,380.57 120.00,382.50 C120.28,384.43 120.50,386.33 120.80,387.80 C121.10,389.27 121.45,390.25 121.80,391.30 C122.15,392.35 122.50,393.40 122.90,394.10 C123.30,394.80 123.78,395.08 124.20,395.50 C124.62,395.92 124.92,396.35 125.40,396.60 C125.88,396.85 126.40,396.92 127.10,397.00 C127.80,397.08 129.18,397.08 129.60,397.10" fill="none" stroke="#93c82e" stroke-width="2.30" stroke-linejoin="round" stroke-linecap="square"/>
<rect x="33.50" y="284.30" width="100.60" height="113.20" fill="none" stroke="#3a3a3a" stroke-width="0.75"/>
<g stroke="#3a3a3a" stroke-width="0.75"><line x1="31.30" y1="397.28" x2="33.50" y2="397.28"/><line x1="31.30" y1="379.81" x2="33.50" y2="379.81"/><line x1="31.30" y1="362.34" x2="33.50" y2="362.34"/><line x1="31.30" y1="344.87" x2="33.50" y2="344.87"/><line x1="31.30" y1="327.40" x2="33.50" y2="327.40"/><line x1="31.30" y1="309.93" x2="33.50" y2="309.93"/><line x1="31.30" y1="292.47" x2="33.50" y2="292.47"/><line x1="60.00" y1="397.50" x2="60.00" y2="399.70"/><line x1="91.50" y1="397.50" x2="91.50" y2="399.70"/><line x1="123.00" y1="397.50" x2="123.00" y2="399.70"/></g>
<g font-size="7.00" fill="#111"><text x="29.60" y="399.78" text-anchor="end">0.00</text><text x="29.60" y="382.31" text-anchor="end">0.02</text><text x="29.60" y="364.84" text-anchor="end">0.04</text><text x="29.60" y="347.37" text-anchor="end">0.06</text><text x="29.60" y="329.90" text-anchor="end">0.08</text><text x="29.60" y="312.43" text-anchor="end">0.10</text><text x="29.60" y="294.97" text-anchor="end">0.12</text><text x="60.00" y="406.10" text-anchor="middle">70</text><text x="91.50" y="406.10" text-anchor="middle">80</text><text x="123.00" y="406.10" text-anchor="middle">90</text></g>
<text x="83.80" y="281.55" text-anchor="middle" font-size="6.80" fill="#111" style="stroke-width:0.12px">Potato</text>
<text transform="translate(13.30,340.90) rotate(-90)" text-anchor="middle" font-size="5.70" fill="#222" style="stroke-width:0.05px">Density</text>
<path d="M173.18,397.28 C174.22,397.28 178.07,397.35 179.42,397.28 C180.78,397.20 180.85,397.10 181.30,396.80 C181.75,396.50 181.82,396.13 182.10,395.50 C182.38,394.87 182.75,394.12 183.00,393.00 C183.25,391.88 183.37,390.55 183.60,388.80 C183.83,387.05 184.17,384.25 184.40,382.50 C184.63,380.75 184.75,379.70 185.00,378.30 C185.25,376.90 185.62,375.32 185.90,374.10 C186.18,372.88 186.42,372.03 186.70,371.00 C186.98,369.97 187.35,368.85 187.60,367.90 C187.85,366.95 188.00,366.35 188.20,365.30 C188.40,364.25 188.60,363.38 188.80,361.60 C189.00,359.82 189.18,357.05 189.40,354.60 C189.62,352.15 189.88,349.40 190.10,346.90 C190.32,344.40 190.50,342.05 190.70,339.60 C190.90,337.15 191.10,334.65 191.30,332.20 C191.50,329.75 191.65,327.35 191.90,324.90 C192.15,322.45 192.55,319.67 192.80,317.50 C193.05,315.33 193.17,313.98 193.40,311.90 C193.63,309.82 193.95,307.03 194.20,305.00 C194.45,302.97 194.68,301.28 194.90,299.70 C195.12,298.12 195.30,296.78 195.50,295.50 C195.70,294.22 195.88,292.93 196.10,292.00 C196.32,291.07 196.55,290.37 196.80,289.90 C197.05,289.43 197.37,289.23 197.60,289.20 C197.83,289.17 198.00,289.42 198.20,289.70 C198.40,289.98 198.58,290.10 198.80,290.90 C199.02,291.70 199.28,292.68 199.50,294.50 C199.72,296.32 199.90,299.00 200.10,301.80 C200.30,304.60 200.45,307.28 200.70,311.30 C200.95,315.32 201.35,321.72 201.60,325.90 C201.85,330.08 202.00,333.25 202.20,336.40 C202.40,339.55 202.58,342.18 202.80,344.80 C203.02,347.42 203.25,349.13 203.50,352.10 C203.75,355.07 204.07,359.28 204.30,362.60 C204.53,365.92 204.70,369.45 204.90,372.00 C205.10,374.55 205.28,376.32 205.50,377.90 C205.72,379.48 205.95,380.38 206.20,381.50 C206.45,382.62 206.73,383.73 207.00,384.60 C207.27,385.47 207.55,386.00 207.80,386.70 C208.05,387.40 208.25,388.03 208.50,388.80 C208.75,389.57 209.07,390.60 209.30,391.30 C209.53,392.00 209.65,392.37 209.90,393.00 C210.15,393.63 210.52,394.57 210.80,395.10 C211.08,395.63 211.28,395.95 211.60,396.20 C211.92,396.45 212.18,396.50 212.70,396.60 C213.22,396.70 213.59,396.77 214.70,396.80 C215.81,396.83 217.95,396.82 219.35,396.78 C220.75,396.73 221.85,396.48 223.09,396.53 C224.34,396.57 225.38,396.98 226.84,397.03 C228.29,397.07 230.16,396.78 231.83,396.78 C233.49,396.78 231.20,396.94 236.82,397.03 C242.43,397.11 260.73,397.23 265.52,397.28" fill="none" stroke="#46b670" stroke-width="2.30" stroke-linejoin="round" stroke-linecap="square"/>
<rect x="169.80" y="284.30" width="100.60" height="113.20" fill="none" stroke="#3a3a3a" stroke-width="0.75"/>
<g stroke="#3a3a3a" stroke-width="0.75"><line x1="167.60" y1="397.28" x2="169.80" y2="397.28"/><line x1="167.60" y1="372.82" x2="169.80" y2="372.82"/><line x1="167.60" y1="348.11" x2="169.80" y2="348.11"/><line x1="167.60" y1="323.41" x2="169.80" y2="323.41"/><line x1="167.60" y1="298.70" x2="169.80" y2="298.70"/><line x1="171.20" y1="397.50" x2="171.20" y2="399.70"/><line x1="200.80" y1="397.50" x2="200.80" y2="399.70"/><line x1="230.40" y1="397.50" x2="230.40" y2="399.70"/><line x1="260.00" y1="397.50" x2="260.00" y2="399.70"/></g>
<g font-size="7.00" fill="#111"><text x="165.90" y="399.78" text-anchor="end">0.00</text><text x="165.90" y="375.32" text-anchor="end">0.05</text><text x="165.90" y="350.61" text-anchor="end">0.10</text><text x="165.90" y="325.91" text-anchor="end">0.15</text><text x="165.90" y="301.20" text-anchor="end">0.20</text><text x="171.20" y="406.10" text-anchor="middle">−90</text><text x="200.80" y="406.10" text-anchor="middle">−80</text><text x="230.40" y="406.10" text-anchor="middle">−70</text><text x="260.00" y="406.10" text-anchor="middle">−60</text></g>
<text x="220.10" y="281.55" text-anchor="middle" font-size="6.80" fill="#111" style="stroke-width:0.12px">Sweet Potato</text>
<text transform="translate(149.60,340.90) rotate(-90)" text-anchor="middle" font-size="5.70" fill="#222" style="stroke-width:0.05px">Density</text>
<path d="M309.60,397.10 C310.58,397.05 313.82,397.07 315.50,396.80 C317.18,396.53 318.65,395.88 319.70,395.50 C320.75,395.12 321.10,394.92 321.80,394.50 C322.50,394.08 323.20,393.53 323.90,393.00 C324.60,392.47 325.30,391.82 326.00,391.30 C326.70,390.78 327.40,390.38 328.10,389.90 C328.80,389.42 329.50,388.93 330.20,388.40 C330.90,387.87 331.68,387.30 332.30,386.70 C332.92,386.10 333.38,385.50 333.90,384.80 C334.42,384.10 334.90,383.33 335.40,382.50 C335.90,381.67 336.38,380.85 336.90,379.80 C337.42,378.75 338.02,377.42 338.50,376.20 C338.98,374.98 339.37,373.88 339.80,372.50 C340.23,371.12 340.75,369.45 341.10,367.90 C341.45,366.35 341.63,364.95 341.90,363.20 C342.17,361.45 342.42,359.42 342.70,357.40 C342.98,355.38 343.32,353.20 343.60,351.10 C343.88,349.00 344.17,346.90 344.40,344.80 C344.63,342.70 344.75,340.60 345.00,338.50 C345.25,336.40 345.58,334.30 345.90,332.20 C346.22,330.10 346.55,327.82 346.90,325.90 C347.25,323.98 347.62,322.20 348.00,320.70 C348.38,319.20 348.75,318.12 349.20,316.90 C349.65,315.68 350.23,314.42 350.70,313.40 C351.17,312.38 351.58,311.68 352.00,310.80 C352.42,309.92 352.82,309.15 353.20,308.10 C353.58,307.05 353.95,305.72 354.30,304.50 C354.65,303.28 354.95,302.05 355.30,300.80 C355.65,299.55 356.05,298.23 356.40,297.00 C356.75,295.77 357.02,294.48 357.40,293.40 C357.78,292.32 358.28,291.20 358.70,290.50 C359.12,289.80 359.35,288.88 359.90,289.20 C360.45,289.52 361.40,291.35 362.00,292.40 C362.60,293.45 362.90,294.80 363.50,295.50 C364.10,296.20 364.90,296.25 365.60,296.60 C366.30,296.95 367.00,296.90 367.70,297.60 C368.40,298.30 369.18,299.57 369.80,300.80 C370.42,302.03 370.85,303.25 371.40,305.00 C371.95,306.75 372.57,308.87 373.10,311.30 C373.63,313.73 374.10,316.12 374.60,319.60 C375.10,323.08 375.65,328.00 376.10,332.20 C376.55,336.40 376.88,340.25 377.30,344.80 C377.72,349.35 378.18,354.97 378.60,359.50 C379.02,364.03 379.38,368.17 379.80,372.00 C380.22,375.83 380.63,379.35 381.10,382.50 C381.57,385.65 382.05,388.87 382.60,390.90 C383.15,392.93 383.63,393.82 384.40,394.70 C385.17,395.58 386.03,395.88 387.20,396.20 C388.37,396.52 389.52,396.45 391.40,396.60 C393.28,396.75 396.65,396.99 398.50,397.10 C400.35,397.21 401.85,397.25 402.52,397.28" fill="none" stroke="#e84e10" stroke-width="2.30" stroke-linejoin="round" stroke-linecap="square"/>
<rect x="306.10" y="284.30" width="100.60" height="113.20" fill="none" stroke="#3a3a3a" stroke-width="0.75"/>
<g stroke="#3a3a3a" stroke-width="0.75"><line x1="303.90" y1="397.28" x2="306.10" y2="397.28"/><line x1="303.90" y1="375.56" x2="306.10" y2="375.56"/><line x1="303.90" y1="353.85" x2="306.10" y2="353.85"/><line x1="303.90" y1="332.14" x2="306.10" y2="332.14"/><line x1="303.90" y1="310.68" x2="306.10" y2="310.68"/><line x1="303.90" y1="288.97" x2="306.10" y2="288.97"/><line x1="329.40" y1="397.50" x2="329.40" y2="399.70"/><line x1="368.33" y1="397.50" x2="368.33" y2="399.70"/></g>
<g font-size="7.00" fill="#111"><text x="302.20" y="399.78" text-anchor="end">0.00</text><text x="302.20" y="378.06" text-anchor="end">0.05</text><text x="302.20" y="356.35" text-anchor="end">0.10</text><text x="302.20" y="334.64" text-anchor="end">0.15</text><text x="302.20" y="313.18" text-anchor="end">0.20</text><text x="302.20" y="291.47" text-anchor="end">0.25</text><text x="329.40" y="406.10" text-anchor="middle">80</text><text x="368.33" y="406.10" text-anchor="middle">85</text></g>
<text x="356.40" y="281.55" text-anchor="middle" font-size="6.80" fill="#111" style="stroke-width:0.12px">Pepper</text>
<text transform="translate(285.90,340.90) rotate(-90)" text-anchor="middle" font-size="5.70" fill="#222" style="stroke-width:0.05px">Density</text>
<path d="M445.88,397.33 C447.65,397.33 454.09,397.42 456.49,397.33 C458.89,397.25 459.02,396.95 460.28,396.83 C461.55,396.70 462.60,396.57 464.07,396.57 C465.55,396.57 467.57,396.79 469.13,396.83 C470.68,396.86 472.40,397.02 473.40,396.80 C474.40,396.58 474.58,396.13 475.10,395.50 C475.62,394.87 476.08,393.93 476.50,393.00 C476.92,392.07 477.25,390.95 477.60,389.90 C477.95,388.85 478.25,387.82 478.60,386.70 C478.95,385.58 479.35,384.25 479.70,383.20 C480.05,382.15 480.35,381.22 480.70,380.40 C481.05,379.58 481.45,379.00 481.80,378.30 C482.15,377.60 482.47,376.82 482.80,376.20 C483.13,375.58 483.45,375.30 483.80,374.60 C484.15,373.90 484.62,373.12 484.90,372.00 C485.18,370.88 485.33,369.28 485.50,367.90 C485.67,366.52 485.72,365.45 485.90,363.70 C486.08,361.95 486.42,359.50 486.60,357.40 C486.78,355.30 486.83,353.38 487.00,351.10 C487.17,348.82 487.43,346.15 487.60,343.70 C487.77,341.25 487.82,338.83 488.00,336.40 C488.18,333.97 488.52,331.55 488.70,329.10 C488.88,326.65 488.93,324.15 489.10,321.70 C489.27,319.25 489.53,316.83 489.70,314.40 C489.87,311.97 489.92,309.37 490.10,307.10 C490.28,304.83 490.58,302.55 490.80,300.80 C491.02,299.05 491.17,297.93 491.40,296.60 C491.63,295.27 491.95,293.68 492.20,292.80 C492.45,291.92 492.65,291.78 492.90,291.30 C493.15,290.82 493.40,290.23 493.70,289.90 C494.00,289.57 494.38,289.23 494.70,289.30 C495.02,289.37 495.32,289.78 495.60,290.30 C495.88,290.82 496.08,291.77 496.40,292.40 C496.72,293.03 497.15,293.58 497.50,294.10 C497.85,294.62 498.15,295.15 498.50,295.50 C498.85,295.85 499.08,295.70 499.60,296.20 C500.12,296.70 501.08,297.73 501.60,298.50 C502.12,299.27 502.35,299.95 502.70,300.80 C503.05,301.65 503.35,302.53 503.70,303.60 C504.05,304.67 504.45,306.00 504.80,307.20 C505.15,308.40 505.45,309.57 505.80,310.80 C506.15,312.03 506.55,313.30 506.90,314.60 C507.25,315.90 507.55,317.30 507.90,318.60 C508.25,319.90 508.65,321.18 509.00,322.40 C509.35,323.62 509.67,324.72 510.00,325.90 C510.33,327.08 510.65,328.52 511.00,329.50 C511.35,330.48 511.75,331.38 512.10,331.80 C512.45,332.22 512.75,332.10 513.10,332.00 C513.45,331.90 513.83,331.53 514.20,331.20 C514.57,330.87 514.95,330.25 515.30,330.00 C515.65,329.75 516.00,329.63 516.30,329.70 C516.60,329.77 516.87,330.05 517.10,330.40 C517.33,330.75 517.42,330.80 517.70,331.80 C517.98,332.80 518.45,334.93 518.80,336.40 C519.15,337.87 519.45,338.85 519.80,340.60 C520.15,342.35 520.55,344.45 520.90,346.90 C521.25,349.35 521.55,352.50 521.90,355.30 C522.25,358.10 522.65,360.92 523.00,363.70 C523.35,366.48 523.65,369.22 524.00,372.00 C524.35,374.78 524.75,377.77 525.10,380.40 C525.45,383.03 525.75,385.87 526.10,387.80 C526.45,389.73 526.78,390.85 527.20,392.00 C527.62,393.15 528.08,394.00 528.60,394.70 C529.12,395.40 529.48,395.82 530.30,396.20 C531.12,396.58 532.13,396.83 533.50,397.00 C534.87,397.17 537.67,397.17 538.50,397.20" fill="none" stroke="#d8864a" stroke-width="2.30" stroke-linejoin="round" stroke-linecap="square"/>
<rect x="442.40" y="284.30" width="100.60" height="113.20" fill="none" stroke="#3a3a3a" stroke-width="0.75"/>
<g stroke="#3a3a3a" stroke-width="0.75"><line x1="440.20" y1="397.33" x2="442.40" y2="397.33"/><line x1="440.20" y1="373.07" x2="442.40" y2="373.07"/><line x1="440.20" y1="348.81" x2="442.40" y2="348.81"/><line x1="440.20" y1="324.55" x2="442.40" y2="324.55"/><line x1="440.20" y1="300.28" x2="442.40" y2="300.28"/><line x1="459.00" y1="397.50" x2="459.00" y2="399.70"/><line x1="491.80" y1="397.50" x2="491.80" y2="399.70"/><line x1="524.60" y1="397.50" x2="524.60" y2="399.70"/></g>
<g font-size="7.00" fill="#111"><text x="438.50" y="399.83" text-anchor="end">0.00</text><text x="438.50" y="375.57" text-anchor="end">0.05</text><text x="438.50" y="351.31" text-anchor="end">0.10</text><text x="438.50" y="327.05" text-anchor="end">0.15</text><text x="438.50" y="302.78" text-anchor="end">0.20</text><text x="459.00" y="406.10" text-anchor="middle">60</text><text x="491.80" y="406.10" text-anchor="middle">65</text><text x="524.60" y="406.10" text-anchor="middle">70</text></g>
<text x="492.70" y="281.55" text-anchor="middle" font-size="6.80" fill="#111" style="stroke-width:0.12px">Onion</text>
<text transform="translate(422.20,340.90) rotate(-90)" text-anchor="middle" font-size="5.70" fill="#222" style="stroke-width:0.05px">Density</text>
<path d="M37.80,533.20 C38.20,533.03 39.28,532.65 40.20,532.20 C41.12,531.75 42.50,530.93 43.30,530.50 C44.10,530.07 44.47,529.78 45.00,529.60 C45.53,529.42 46.02,529.35 46.50,529.40 C46.98,529.45 47.38,529.72 47.90,529.90 C48.42,530.08 48.97,530.33 49.60,530.50 C50.23,530.67 51.00,530.80 51.70,530.90 C52.40,531.00 53.17,531.07 53.80,531.10 C54.43,531.13 54.80,531.28 55.50,531.10 C56.20,530.92 57.25,530.48 58.00,530.00 C58.75,529.52 59.40,528.90 60.00,528.20 C60.60,527.50 61.10,526.63 61.60,525.80 C62.10,524.97 62.50,524.30 63.00,523.20 C63.50,522.10 64.10,520.70 64.60,519.20 C65.10,517.70 65.60,515.70 66.00,514.20 C66.40,512.70 66.67,511.70 67.00,510.20 C67.33,508.70 67.67,507.12 68.00,505.20 C68.33,503.28 68.67,501.05 69.00,498.70 C69.33,496.35 69.67,493.70 70.00,491.10 C70.33,488.50 70.67,485.77 71.00,483.10 C71.33,480.43 71.67,477.77 72.00,475.10 C72.33,472.43 72.67,469.77 73.00,467.10 C73.33,464.43 73.67,461.60 74.00,459.10 C74.33,456.60 74.67,454.12 75.00,452.10 C75.33,450.08 75.67,448.42 76.00,447.00 C76.33,445.58 76.67,444.60 77.00,443.60 C77.33,442.60 77.67,442.10 78.00,441.00 C78.33,439.90 78.67,438.67 79.00,437.00 C79.33,435.33 79.70,432.53 80.00,431.00 C80.30,429.47 80.52,428.65 80.80,427.80 C81.08,426.95 81.35,426.33 81.70,425.90 C82.05,425.47 82.57,425.20 82.90,425.20 C83.23,425.20 83.42,425.47 83.70,425.90 C83.98,426.33 84.25,426.68 84.60,427.80 C84.95,428.92 85.32,430.40 85.80,432.60 C86.28,434.80 86.93,437.87 87.50,441.00 C88.07,444.13 88.63,447.57 89.20,451.40 C89.77,455.23 90.35,459.80 90.90,464.00 C91.45,468.20 91.95,472.40 92.50,476.60 C93.05,480.80 93.63,485.35 94.20,489.20 C94.77,493.05 95.48,497.43 95.90,499.70 C96.32,501.97 96.38,501.93 96.70,502.80 C97.02,503.67 97.48,504.20 97.80,504.90 C98.12,505.60 98.32,506.13 98.60,507.00 C98.88,507.87 99.22,509.05 99.50,510.10 C99.78,511.15 100.03,512.25 100.30,513.30 C100.57,514.35 100.82,515.25 101.10,516.40 C101.38,517.55 101.68,518.97 102.00,520.20 C102.32,521.43 102.65,522.68 103.00,523.80 C103.35,524.92 103.75,526.03 104.10,526.90 C104.45,527.77 104.72,528.37 105.10,529.00 C105.48,529.63 105.98,530.25 106.40,530.70 C106.82,531.15 107.12,531.42 107.60,531.70 C108.08,531.98 108.67,532.22 109.30,532.40 C109.93,532.58 110.28,532.67 111.40,532.80 C112.52,532.93 112.95,533.12 116.00,533.20 C119.05,533.28 127.42,533.28 129.70,533.30" fill="none" stroke="#3846a6" stroke-width="2.30" stroke-linejoin="round" stroke-linecap="square"/>
<rect x="33.50" y="420.40" width="100.60" height="113.20" fill="none" stroke="#3a3a3a" stroke-width="0.75"/>
<g stroke="#3a3a3a" stroke-width="0.75"><line x1="31.30" y1="533.53" x2="33.50" y2="533.53"/><line x1="31.30" y1="517.81" x2="33.50" y2="517.81"/><line x1="31.30" y1="502.33" x2="33.50" y2="502.33"/><line x1="31.30" y1="486.86" x2="33.50" y2="486.86"/><line x1="31.30" y1="471.39" x2="33.50" y2="471.39"/><line x1="31.30" y1="455.92" x2="33.50" y2="455.92"/><line x1="31.30" y1="440.20" x2="33.50" y2="440.20"/><line x1="31.30" y1="424.72" x2="33.50" y2="424.72"/><line x1="55.90" y1="533.60" x2="55.90" y2="535.80"/><line x1="86.30" y1="533.60" x2="86.30" y2="535.80"/><line x1="116.70" y1="533.60" x2="116.70" y2="535.80"/></g>
<g font-size="7.00" fill="#111"><text x="29.60" y="536.03" text-anchor="end">0.00</text><text x="29.60" y="520.31" text-anchor="end">0.02</text><text x="29.60" y="504.83" text-anchor="end">0.04</text><text x="29.60" y="489.36" text-anchor="end">0.06</text><text x="29.60" y="473.89" text-anchor="end">0.08</text><text x="29.60" y="458.42" text-anchor="end">0.10</text><text x="29.60" y="442.70" text-anchor="end">0.12</text><text x="29.60" y="427.22" text-anchor="end">0.14</text><text x="55.90" y="542.20" text-anchor="middle">−120</text><text x="86.30" y="542.20" text-anchor="middle">−110</text><text x="116.70" y="542.20" text-anchor="middle">−100</text></g>
<text x="83.80" y="417.65" text-anchor="middle" font-size="6.80" fill="#111" style="stroke-width:0.12px">Carrot</text>
<text transform="translate(13.30,477.00) rotate(-90)" text-anchor="middle" font-size="5.70" fill="#222" style="stroke-width:0.05px">Density</text>
<path d="M174.43,533.53 C175.06,533.44 177.26,533.28 178.17,533.03 C179.09,532.78 179.38,532.61 179.92,532.03 C180.46,531.45 180.92,530.78 181.42,529.53 C181.92,528.29 182.42,526.83 182.92,524.54 C183.42,522.26 183.96,518.51 184.41,515.81 C184.87,513.11 185.25,510.82 185.66,508.32 C186.08,505.83 186.49,503.33 186.91,500.84 C187.32,498.34 187.74,495.85 188.16,493.35 C188.57,490.85 189.03,488.03 189.40,485.86 C189.78,483.70 190.11,481.70 190.40,480.37 C190.69,479.04 190.90,478.13 191.15,477.88 C191.40,477.63 191.65,478.17 191.90,478.88 C192.15,479.58 192.36,481.12 192.65,482.12 C192.94,483.12 193.36,484.32 193.65,484.87 C193.94,485.41 194.15,485.82 194.40,485.36 C194.64,484.91 194.89,483.91 195.14,482.12 C195.39,480.33 195.60,477.75 195.89,474.63 C196.18,471.51 196.60,466.52 196.89,463.40 C197.18,460.29 197.35,458.00 197.64,455.92 C197.93,453.84 198.30,452.38 198.64,450.93 C198.97,449.47 199.34,448.43 199.64,447.18 C199.93,445.94 200.13,445.10 200.38,443.44 C200.63,441.78 200.88,439.28 201.13,437.20 C201.38,435.12 201.63,432.75 201.88,430.96 C202.13,429.18 202.38,427.39 202.63,426.47 C202.88,425.56 203.13,425.14 203.38,425.47 C203.63,425.81 203.88,426.93 204.13,428.47 C204.38,430.01 204.63,432.21 204.88,434.71 C205.13,437.20 205.38,440.11 205.62,443.44 C205.87,446.77 206.12,450.51 206.37,454.67 C206.62,458.83 206.87,463.61 207.12,468.40 C207.37,473.18 207.62,478.79 207.87,483.37 C208.12,487.94 208.37,491.27 208.62,495.85 C208.87,500.42 209.12,506.99 209.37,510.82 C209.62,514.64 209.83,516.81 210.12,518.80 C210.41,520.80 210.70,521.63 211.11,522.80 C211.53,523.96 212.07,524.71 212.61,525.79 C213.15,526.87 213.82,528.33 214.36,529.28 C214.90,530.24 215.36,530.95 215.86,531.53 C216.36,532.11 216.77,532.49 217.35,532.78 C217.94,533.07 218.39,533.15 219.35,533.28 C220.31,533.40 219.35,533.53 223.09,533.53 C226.84,533.53 237.86,533.36 241.81,533.28 C245.76,533.19 245.55,533.19 246.80,533.03 C248.05,532.86 248.55,532.40 249.30,532.28 C250.04,532.15 250.67,532.15 251.29,532.28 C251.92,532.40 252.12,532.90 253.04,533.03 C253.95,533.15 255.82,533.15 256.78,533.03 C257.74,532.90 258.20,532.45 258.78,532.28 C259.36,532.11 259.78,531.95 260.28,532.03 C260.77,532.11 261.11,532.57 261.77,532.78 C262.44,532.99 263.02,533.15 264.27,533.28 C265.52,533.40 268.43,533.48 269.26,533.53" fill="none" stroke="#fda302" stroke-width="2.30" stroke-linejoin="round" stroke-linecap="square"/>
<rect x="169.80" y="420.40" width="100.60" height="113.20" fill="none" stroke="#3a3a3a" stroke-width="0.75"/>
<g stroke="#3a3a3a" stroke-width="0.75"><line x1="167.60" y1="533.53" x2="169.80" y2="533.53"/><line x1="167.60" y1="516.06" x2="169.80" y2="516.06"/><line x1="167.60" y1="498.34" x2="169.80" y2="498.34"/><line x1="167.60" y1="480.87" x2="169.80" y2="480.87"/><line x1="167.60" y1="463.15" x2="169.80" y2="463.15"/><line x1="167.60" y1="445.44" x2="169.80" y2="445.44"/><line x1="167.60" y1="427.72" x2="169.80" y2="427.72"/><line x1="175.68" y1="533.60" x2="175.68" y2="535.80"/><line x1="199.89" y1="533.60" x2="199.89" y2="535.80"/><line x1="223.59" y1="533.60" x2="223.59" y2="535.80"/><line x1="246.30" y1="533.60" x2="246.30" y2="535.80"/><line x1="270.51" y1="533.60" x2="270.51" y2="535.80"/></g>
<g font-size="7.00" fill="#111"><text x="165.90" y="536.03" text-anchor="end">0.00</text><text x="165.90" y="518.56" text-anchor="end">0.05</text><text x="165.90" y="500.84" text-anchor="end">0.10</text><text x="165.90" y="483.37" text-anchor="end">0.15</text><text x="165.90" y="465.65" text-anchor="end">0.20</text><text x="165.90" y="447.94" text-anchor="end">0.25</text><text x="165.90" y="430.22" text-anchor="end">0.30</text><text x="175.68" y="542.20" text-anchor="middle">−70</text><text x="199.89" y="542.20" text-anchor="middle">−65</text><text x="223.59" y="542.20" text-anchor="middle">−60</text><text x="246.30" y="542.20" text-anchor="middle">−55</text><text x="270.51" y="542.20" text-anchor="middle">−50</text></g>
<text x="220.10" y="417.65" text-anchor="middle" font-size="6.80" fill="#111" style="stroke-width:0.12px">Pumpkin</text>
<text transform="translate(149.60,477.00) rotate(-90)" text-anchor="middle" font-size="5.70" fill="#222" style="stroke-width:0.05px">Density</text>
<path d="M307.69,533.53 C308.10,533.48 309.56,533.40 310.18,533.28 C310.81,533.15 311.02,533.19 311.43,532.78 C311.85,532.36 312.35,531.53 312.68,530.78 C313.01,530.03 313.18,529.74 313.43,528.29 C313.68,526.83 313.89,524.96 314.18,522.05 C314.47,519.14 314.88,514.77 315.17,510.82 C315.47,506.87 315.63,503.33 315.92,498.34 C316.21,493.35 316.59,486.70 316.92,480.87 C317.25,475.05 317.59,469.23 317.92,463.40 C318.25,457.58 318.59,450.93 318.92,445.94 C319.25,440.95 319.58,436.79 319.92,433.46 C320.25,430.13 320.58,427.01 320.91,425.97 C321.25,424.93 321.58,425.56 321.91,427.22 C322.25,428.88 322.58,431.59 322.91,435.95 C323.24,440.32 323.58,447.18 323.91,453.42 C324.24,459.66 324.57,467.15 324.91,473.39 C325.24,479.62 325.57,485.24 325.91,490.85 C326.24,496.47 326.57,502.71 326.90,507.07 C327.24,511.44 327.57,514.35 327.90,517.06 C328.23,519.76 328.61,522.13 328.90,523.30 C329.19,524.46 329.40,524.25 329.65,524.04 C329.90,523.84 330.11,523.42 330.40,522.05 C330.69,520.67 331.02,518.30 331.40,515.81 C331.77,513.31 332.23,509.99 332.64,507.07 C333.06,504.16 333.47,500.84 333.89,498.34 C334.31,495.85 334.72,493.77 335.14,492.10 C335.55,490.44 336.01,489.19 336.39,488.36 C336.76,487.53 337.09,487.28 337.38,487.11 C337.68,486.94 337.84,486.94 338.13,487.36 C338.42,487.78 338.80,488.61 339.13,489.61 C339.46,490.60 339.76,491.89 340.13,493.35 C340.50,494.81 340.96,497.01 341.38,498.34 C341.79,499.67 342.21,500.71 342.62,501.34 C343.04,501.96 343.46,501.92 343.87,502.08 C344.29,502.25 344.53,502.11 345.12,502.33 C345.71,502.55 346.72,502.37 347.40,503.40 C348.08,504.43 348.60,506.25 349.20,508.50 C349.80,510.75 350.40,514.30 351.00,516.90 C351.60,519.50 352.20,522.27 352.80,524.10 C353.40,525.93 354.00,527.10 354.60,527.90 C355.20,528.70 355.80,528.93 356.40,528.90 C357.00,528.87 357.60,528.70 358.20,527.70 C358.80,526.70 359.40,524.70 360.00,522.90 C360.60,521.10 361.10,519.10 361.80,516.90 C362.50,514.70 363.40,511.70 364.20,509.70 C365.00,507.70 365.80,506.27 366.60,504.90 C367.40,503.53 368.20,502.62 369.00,501.50 C369.80,500.38 370.60,499.25 371.40,498.20 C372.20,497.15 373.20,495.80 373.80,495.20 C374.40,494.60 374.55,494.55 375.00,494.60 C375.45,494.65 375.98,494.80 376.50,495.50 C377.02,496.20 377.53,497.43 378.10,498.80 C378.67,500.17 379.30,502.08 379.90,503.70 C380.50,505.32 381.10,506.90 381.70,508.50 C382.30,510.10 382.90,512.00 383.50,513.30 C384.10,514.60 384.70,515.50 385.30,516.30 C385.90,517.10 386.50,517.40 387.10,518.10 C387.70,518.80 388.40,519.60 388.90,520.50 C389.40,521.40 389.70,522.50 390.10,523.50 C390.50,524.50 390.90,525.50 391.30,526.50 C391.70,527.50 392.10,528.60 392.50,529.50 C392.90,530.40 393.30,531.30 393.70,531.90 C394.10,532.50 394.40,532.83 394.90,533.10 C395.40,533.37 395.43,533.42 396.70,533.50 C397.97,533.58 401.53,533.58 402.50,533.60" fill="none" stroke="#e50509" stroke-width="2.30" stroke-linejoin="round" stroke-linecap="square"/>
<rect x="306.10" y="420.40" width="100.60" height="113.20" fill="none" stroke="#3a3a3a" stroke-width="0.75"/>
<g stroke="#3a3a3a" stroke-width="0.75"><line x1="303.90" y1="533.53" x2="306.10" y2="533.53"/><line x1="303.90" y1="520.05" x2="306.10" y2="520.05"/><line x1="303.90" y1="506.58" x2="306.10" y2="506.58"/><line x1="303.90" y1="493.10" x2="306.10" y2="493.10"/><line x1="303.90" y1="479.62" x2="306.10" y2="479.62"/><line x1="303.90" y1="466.15" x2="306.10" y2="466.15"/><line x1="303.90" y1="452.67" x2="306.10" y2="452.67"/><line x1="303.90" y1="439.20" x2="306.10" y2="439.20"/><line x1="303.90" y1="425.72" x2="306.10" y2="425.72"/><line x1="313.43" y1="533.60" x2="313.43" y2="535.80"/><line x1="335.89" y1="533.60" x2="335.89" y2="535.80"/><line x1="358.35" y1="533.60" x2="358.35" y2="535.80"/><line x1="380.56" y1="533.60" x2="380.56" y2="535.80"/><line x1="402.52" y1="533.60" x2="402.52" y2="535.80"/></g>
<g font-size="7.00" fill="#111"><text x="302.20" y="536.03" text-anchor="end">0.000</text><text x="302.20" y="522.55" text-anchor="end">0.025</text><text x="302.20" y="509.08" text-anchor="end">0.050</text><text x="302.20" y="495.60" text-anchor="end">0.075</text><text x="302.20" y="482.12" text-anchor="end">0.100</text><text x="302.20" y="468.65" text-anchor="end">0.125</text><text x="302.20" y="455.17" text-anchor="end">0.150</text><text x="302.20" y="441.70" text-anchor="end">0.175</text><text x="302.20" y="428.22" text-anchor="end">0.200</text><text x="313.43" y="542.20" text-anchor="middle">0</text><text x="335.89" y="542.20" text-anchor="middle">5</text><text x="358.35" y="542.20" text-anchor="middle">10</text><text x="380.56" y="542.20" text-anchor="middle">15</text><text x="402.52" y="542.20" text-anchor="middle">20</text></g>
<text x="356.40" y="417.65" text-anchor="middle" font-size="6.80" fill="#111" style="stroke-width:0.12px">Tomato</text>
<text transform="translate(281.90,477.00) rotate(-90)" text-anchor="middle" font-size="5.70" fill="#222" style="stroke-width:0.05px">Density</text>
<path d="M445.00,533.20 C452.50,533.20 481.83,533.25 490.00,533.20 C498.17,533.15 492.88,533.28 494.00,532.90 C495.12,532.52 495.95,532.40 496.70,530.90 C497.45,529.40 497.92,527.98 498.50,523.90 C499.08,519.82 499.62,512.80 500.20,506.40 C500.78,500.00 501.42,492.20 502.00,485.50 C502.58,478.80 503.18,472.62 503.70,466.20 C504.22,459.78 504.70,452.37 505.10,447.00 C505.50,441.63 505.75,437.33 506.10,434.00 C506.45,430.67 506.83,428.45 507.20,427.00 C507.57,425.55 507.95,425.27 508.30,425.30 C508.65,425.33 509.00,425.75 509.30,427.20 C509.60,428.65 509.87,430.87 510.10,434.00 C510.33,437.13 510.50,441.50 510.70,446.00 C510.90,450.50 511.10,456.17 511.30,461.00 C511.50,465.83 511.70,470.17 511.90,475.00 C512.10,479.83 512.32,485.63 512.50,490.00 C512.68,494.37 512.72,498.02 513.00,501.20 C513.28,504.38 513.83,507.63 514.20,509.10 C514.57,510.57 514.87,509.77 515.20,510.00 C515.53,510.23 515.87,509.93 516.20,510.50 C516.53,511.07 516.87,511.45 517.20,513.40 C517.53,515.35 517.82,519.57 518.20,522.20 C518.58,524.83 519.08,527.68 519.50,529.20 C519.92,530.72 520.13,531.02 520.70,531.30 C521.27,531.58 522.08,531.12 522.90,530.90 C523.72,530.68 524.72,530.00 525.60,530.00 C526.48,530.00 527.33,530.55 528.20,530.90 C529.07,531.25 530.00,531.77 530.80,532.10 C531.60,532.43 531.72,532.72 533.00,532.90 C534.28,533.08 537.58,533.15 538.50,533.20" fill="none" stroke="#56c29e" stroke-width="2.30" stroke-linejoin="round" stroke-linecap="square"/>
<rect x="442.40" y="420.40" width="100.60" height="113.20" fill="none" stroke="#3a3a3a" stroke-width="0.75"/>
<g stroke="#3a3a3a" stroke-width="0.75"><line x1="440.20" y1="533.83" x2="442.40" y2="533.83"/><line x1="440.20" y1="518.66" x2="442.40" y2="518.66"/><line x1="440.20" y1="503.50" x2="442.40" y2="503.50"/><line x1="440.20" y1="488.08" x2="442.40" y2="488.08"/><line x1="440.20" y1="472.92" x2="442.40" y2="472.92"/><line x1="440.20" y1="457.50" x2="442.40" y2="457.50"/><line x1="440.20" y1="442.34" x2="442.40" y2="442.34"/><line x1="440.20" y1="427.17" x2="442.40" y2="427.17"/><line x1="444.40" y1="533.60" x2="444.40" y2="535.80"/><line x1="478.90" y1="533.60" x2="478.90" y2="535.80"/><line x1="513.40" y1="533.60" x2="513.40" y2="535.80"/></g>
<g font-size="7.00" fill="#111"><text x="438.50" y="536.33" text-anchor="end">0.00</text><text x="438.50" y="521.16" text-anchor="end">0.05</text><text x="438.50" y="506.00" text-anchor="end">0.10</text><text x="438.50" y="490.58" text-anchor="end">0.15</text><text x="438.50" y="475.42" text-anchor="end">0.20</text><text x="438.50" y="460.00" text-anchor="end">0.25</text><text x="438.50" y="444.84" text-anchor="end">0.30</text><text x="438.50" y="429.67" text-anchor="end">0.35</text><text x="444.40" y="542.20" text-anchor="middle">50</text><text x="478.90" y="542.20" text-anchor="middle">60</text><text x="513.40" y="542.20" text-anchor="middle">70</text></g>
<text x="492.70" y="417.65" text-anchor="middle" font-size="6.80" fill="#111" style="stroke-width:0.12px">Quinoa</text>
<text transform="translate(422.20,477.00) rotate(-90)" text-anchor="middle" font-size="5.70" fill="#222" style="stroke-width:0.05px">Density</text>
</svg>
</body></html>
